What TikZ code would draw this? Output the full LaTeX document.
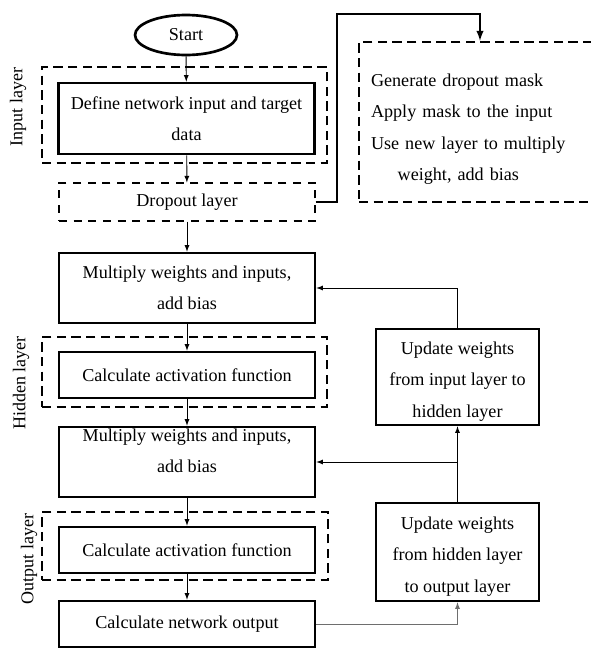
\documentclass[tikz,border=0pt]{standalone}
\usepackage{fontspec}
\setmainfont{Liberation Serif}
\usepackage{tikz}
\usetikzlibrary{positioning,arrows,shapes.geometric,calc}
\definecolor{linegray}{RGB}{110,110,110}
\tikzset{%
  step box/.style={draw, line width=2pt, rectangle, align=center, inner sep=0pt,
    minimum width=256*0.75pt, font=\fontsize{13.6}{23}\selectfont},% process step
  update box/.style={step box, minimum width=163*0.75pt,
    font=\fontsize{13.6}{23.7}\selectfont},% weight update step
  layer box/.style={draw, line width=2pt, rectangle, dash pattern=on 7pt off 4pt,
    inner sep=0pt},% layer frame
  layer label/.style={rotate=90, font=\fontsize{13.5}{16}\selectfont},% layer name
  flow/.style={->, >=latex, line width=0.7pt}% connector
}
\begin{document}
\begin{tikzpicture}[x=0.75pt, y=-0.75pt]
\useasboundingbox (0,0) rectangle (590,650);

% layer frames
\node[layer box, minimum width=285*0.75pt, minimum height=96*0.75pt] (inputframe) at (184.5,115) {};
\node[layer box, minimum width=285*0.75pt, minimum height=70*0.75pt] (hiddenframe) at (184.5,372) {};
\node[layer box, minimum width=286*0.75pt, minimum height=68*0.75pt] (outputframe) at (185,546) {};
\node[layer label] (inputlbl) at (18,107) {Input layer};
\node[layer label] (hiddenlbl) at (21,383) {Hidden layer};
\node[layer label] (outputlbl) at (29,559) {Output layer};

% main column
\node[draw, ellipse, line width=2pt, minimum width=102*0.75pt, minimum height=40*0.75pt,
  inner sep=0pt, font=\fontsize{13.6}{16}\selectfont] (start) at (186,35) {Start};
\node[step box, minimum height=71*0.75pt] (define) at (186.5,118.5) {Define network input and target\\data};
\node[step box, line width=0.8pt, dash pattern=on 6pt off 5pt, minimum height=38*0.75pt] (dropout) at (187,202) {Dropout layer};
\node[step box, minimum height=70*0.75pt] (mult1) at (187,288) {Multiply weights and inputs,\\add bias};
\node[step box, minimum height=46*0.75pt] (act1) at (187,375) {Calculate activation function};
\node[step box, minimum height=70*0.75pt] (mult2) at (187,462) {Multiply weights and inputs,\\add bias\\[-6pt]\mbox{}};
\node[step box, minimum height=46*0.75pt] (act2) at (187,550) {Calculate activation function};
\node[step box, minimum height=46*0.75pt] (netout) at (187,624) {Calculate network output};

% dropout detail and weight updates
\node[layer box, minimum width=242*0.75pt, minimum height=160*0.75pt, text width=242*0.75pt,
  align=left, font=\fontsize{13.6}{23.5}\selectfont] (mask) at (480,122)
  {\hspace*{9pt}\rule{0pt}{20pt}Generate dropout mask\\
   \hspace*{9pt}Apply mask to the input\\
   \hspace*{9pt}Use new layer to multiply\\
   \hspace*{29pt}weight, add bias};
\node[update box, minimum height=96*0.75pt] (upd1) at (457.5,377) {\rule{0pt}{16pt}Update weights\\from input layer to\\hidden layer};
\node[update box, minimum height=98*0.75pt] (upd2) at (457.5,552) {\rule{0pt}{16pt}Update weights\\from hidden layer\\to output layer};
\coordinate (bend) at (337,14);

\draw[flow] (start) -- (define);
\draw[flow] (define) -- (dropout);
\draw[flow] (dropout) -- (mult1);
\draw[flow] (mult1) -- (act1);
\draw[flow] (act1) -- (mult2);
\draw[flow] (mult2) -- (act2);
\draw[flow] (act2) -- (netout);
\draw[flow, line width=1.5pt] (dropout.east) -| (bend) -| (mask.north);
\draw[flow, linegray] (netout.east) -| (upd2.south);
\draw[flow] (upd2.north) -- (upd1.south);
\draw[flow] (upd2.north |- mult2.east) -- (mult2.east);
\draw[flow] (upd1.north) |- (mult1.east);

\end{tikzpicture}
\end{document}
